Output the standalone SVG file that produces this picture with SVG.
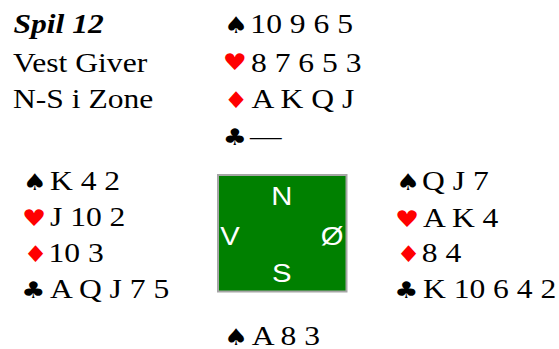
<svg xmlns="http://www.w3.org/2000/svg" width="559" height="349" viewBox="0 0 559 349">
<style>
.t{font-family:"Liberation Serif","Times New Roman",serif;font-size:27px;fill:#000}
.s{font-family:"DejaVu Sans",sans-serif;font-size:23px;fill:#000}
.r{fill:#ff0000}
.c{font-family:"Liberation Sans",Arial,sans-serif;font-size:25px;fill:#fff;text-anchor:middle}
</style>
<rect width="559" height="349" fill="#fff"/>
<g id="title" transform="scale(1.17,1)">
<text class="t" x="11.5" y="33" font-weight="bold" font-style="italic">Spil 12</text>
<text class="t" x="11.1" y="71.7">Vest Giver</text>
<text class="t" x="11.1" y="108.3">N-S i Zone</text>
</g>
<g id="north" transform="scale(1.17,1)">
<text class="s" x="191.5" y="33.5">♠</text><text class="t" x="214" y="33.3">10 9 6 5</text>
<text class="s r" x="190.3" y="70">♥</text><text class="t" x="214.5" y="71.7">8 7 6 5 3</text>
<text class="s r" x="191.5" y="108.5">♦</text><text class="t" x="215" y="108.3">A K Q J</text>
<text class="s" x="190.3" y="145">♣</text><text class="t" x="213.7" y="145">—</text>
</g>
<g id="west" transform="scale(1.17,1)">
<text class="s" x="19.5" y="190">♠</text><text class="t" x="42.7" y="190">K 4 2</text>
<text class="s r" x="18.8" y="226">♥</text><text class="t" x="42.7" y="226">J 10 2</text>
<text class="s r" x="20" y="262">♦</text><text class="t" x="41.5" y="262">10 3</text>
<text class="s" x="18.2" y="298.3">♣</text><text class="t" x="42.7" y="298.3">A Q J 7 5</text>
</g>
<g id="table">
<rect x="218" y="175" width="128.5" height="116.5" fill="#008000" stroke="#a6a6a6" stroke-width="2"/>
<g transform="scale(1.17,1)">
<text class="c" x="240.8" y="205">N</text>
<text class="c" x="196.6" y="245">V</text>
<text class="c" x="283.9" y="245">Ø</text>
<text class="c" x="240.8" y="281.7">S</text>
</g>
</g>
<g id="east" transform="scale(1.17,1)">
<text class="s" x="338.5" y="190">♠</text><text class="t" x="360.7" y="190">Q J 7</text>
<text class="s r" x="337.6" y="226.7">♥</text><text class="t" x="361.5" y="226.7">A K 4</text>
<text class="s r" x="338.8" y="262">♦</text><text class="t" x="360.5" y="262">8 4</text>
<text class="s" x="337" y="298.3">♣</text><text class="t" x="361.5" y="298.3">K 10 6 4 2</text>
</g>
<g id="south" transform="scale(1.17,1)">
<text class="s" x="191.5" y="345">♠</text><text class="t" x="215.1" y="345">A 8 3</text>
</g>
<g id="connectors"/>
</svg>
